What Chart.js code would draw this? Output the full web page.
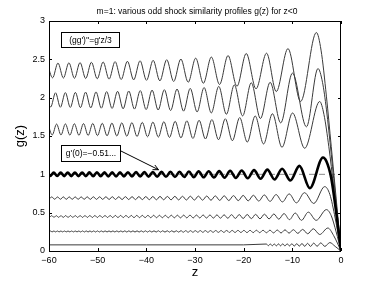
<!DOCTYPE html>
<html>
<head>
<meta charset="utf-8">
<script src="https://cdn.jsdelivr.net/npm/chart.js@4"></script>
<style>
  html, body { margin: 0; padding: 0; background: #fff; }
</style>
</head>
<body>
<canvas id="chart" width="377" height="283"></canvas>
<script>
// axis ticks
const zTicks = [-60, -50, -40, -30, -20, -10, 0];
const gTicks = [0, 0.5, 1, 1.5, 2, 2.5, 3];
const refLevel = 1;

// profiles g(z), extrema (z, g)
const profile1 = [[-60.36,2.450],[-59.26,2.259],[-58.16,2.452],[-57.04,2.256],[-55.91,2.455],[-54.77,2.253],[-53.62,2.458],[-52.46,2.250],[-51.28,2.462],[-50.09,2.246],[-48.88,2.466],[-47.66,2.242],[-46.42,2.470],[-45.17,2.237],[-43.89,2.475],[-42.60,2.232],[-41.29,2.481],[-39.96,2.226],[-38.60,2.487],[-37.22,2.219],[-35.81,2.495],[-34.38,2.211],[-32.91,2.504],[-31.40,2.201],[-29.86,2.515],[-28.28,2.188],[-26.64,2.530],[-24.96,2.172],[-23.21,2.549],[-21.38,2.149],[-19.47,2.576],[-17.46,2.115],[-15.3,2.58],[-13.3,2.08],[-10.9,2.64],[-8.3,1.95],[-5.06,2.85],[-4.1,2.62],[-3,2.02],[-2,1.36],[-1,0.69],[0,0]];

const profile2 = [[-60.65,2.061],[-59.66,1.878],[-58.66,2.064],[-57.66,1.875],[-56.64,2.066],[-55.62,1.873],[-54.58,2.069],[-53.54,1.870],[-52.48,2.072],[-51.42,1.867],[-50.34,2.075],[-49.25,1.863],[-48.15,2.079],[-47.04,1.860],[-45.91,2.083],[-44.77,1.855],[-43.61,2.087],[-42.44,1.851],[-41.25,2.092],[-40.04,1.845],[-38.82,2.098],[-37.57,1.839],[-36.30,2.104],[-35.01,1.832],[-33.69,2.112],[-32.35,1.824],[-30.98,2.121],[-29.57,1.814],[-28.13,2.132],[-26.65,1.801],[-25.12,2.147],[-23.55,1.784],[-21.92,2.166],[-20.22,1.762],[-18.44,2.194],[-16.56,1.728],[-14.56,2.2],[-12.39,1.671],[-9.97,2.32],[-7.1,1.62],[-4.73,2.38],[-3.8,2.2],[-3,1.85],[-2,1.26],[-1,0.63],[0,0]];

const profile3 = [[-60.22,1.655],[-59.33,1.514],[-58.44,1.656],[-57.54,1.513],[-56.63,1.658],[-55.71,1.511],[-54.79,1.660],[-53.85,1.509],[-52.91,1.662],[-51.96,1.507],[-51.01,1.664],[-50.04,1.505],[-49.06,1.666],[-48.07,1.502],[-47.07,1.669],[-46.06,1.500],[-45.04,1.672],[-44.01,1.497],[-42.97,1.675],[-41.91,1.493],[-40.84,1.678],[-39.75,1.490],[-38.65,1.682],[-37.53,1.486],[-36.40,1.687],[-35.25,1.481],[-34.08,1.692],[-32.89,1.475],[-31.67,1.698],[-30.43,1.468],[-29.16,1.705],[-27.86,1.461],[-26.53,1.714],[-25.17,1.451],[-23.77,1.725],[-22.32,1.438],[-20.82,1.740],[-19.26,1.421],[-17.63,1.761],[-15.91,1.396],[-14.09,1.79],[-12.13,1.353],[-9.96,1.8],[-7.46,1.34],[-4.38,1.95],[-3.5,1.78],[-2.5,1.36],[-1.5,0.83],[-0.7,0.39],[0,0]];

// the bold one, g'(0) = -0.51...
const profileBold = [[-60.44,1.022],[-59.74,0.978],[-59.03,1.022],[-58.32,0.978],[-57.60,1.023],[-56.88,0.977],[-56.15,1.023],[-55.42,0.977],[-54.68,1.024],[-53.94,0.976],[-53.19,1.024],[-52.44,0.976],[-51.68,1.025],[-50.92,0.975],[-50.15,1.025],[-49.38,0.975],[-48.60,1.026],[-47.81,0.974],[-47.02,1.026],[-46.22,0.973],[-45.41,1.027],[-44.60,0.973],[-43.78,1.028],[-42.95,0.972],[-42.11,1.029],[-41.26,0.971],[-40.40,1.030],[-39.54,0.970],[-38.66,1.031],[-37.78,0.969],[-36.88,1.032],[-35.97,0.968],[-35.05,1.033],[-34.12,0.966],[-33.18,1.034],[-32.22,0.965],[-31.25,1.036],[-30.26,0.963],[-29.25,1.038],[-28.23,0.961],[-27.18,1.040],[-26.12,0.959],[-25.03,1.042],[-23.92,0.956],[-22.78,1.046],[-21.61,0.953],[-20.40,1.050],[-19.16,0.948],[-17.87,1.055],[-16.53,0.942],[-15.13,1.062],[-13.66,0.933],[-12.10,1.073],[-10.41,0.919],[-8.55,1.11],[-6.4,0.82],[-3.7,1.22],[-3,1.17],[-2,0.95],[-1,0.51],[0,0]];

const profile5 = [[-60.02,0.675],[-59.43,0.705],[-58.84,0.675],[-58.25,0.705],[-57.65,0.675],[-57.05,0.706],[-56.45,0.674],[-55.84,0.706],[-55.23,0.674],[-54.62,0.706],[-54.01,0.674],[-53.39,0.706],[-52.77,0.674],[-52.15,0.707],[-51.52,0.673],[-50.88,0.707],[-50.24,0.673],[-49.60,0.707],[-48.96,0.673],[-48.31,0.708],[-47.65,0.672],[-46.99,0.708],[-46.33,0.672],[-45.66,0.708],[-44.98,0.671],[-44.30,0.709],[-43.62,0.671],[-42.93,0.709],[-42.23,0.670],[-41.53,0.710],[-40.82,0.670],[-40.11,0.710],[-39.39,0.669],[-38.66,0.711],[-37.93,0.668],[-37.19,0.712],[-36.44,0.668],[-35.68,0.712],[-34.92,0.667],[-34.14,0.713],[-33.36,0.666],[-32.57,0.714],[-31.77,0.665],[-30.96,0.715],[-30.13,0.664],[-29.30,0.716],[-28.45,0.663],[-27.59,0.717],[-26.72,0.662],[-25.83,0.719],[-24.92,0.660],[-24.00,0.720],[-23.06,0.658],[-22.09,0.722],[-21.11,0.657],[-20.10,0.725],[-19.07,0.654],[-18.00,0.727],[-16.90,0.651],[-15.76,0.731],[-14.58,0.647],[-13.34,0.736],[-12.04,0.640],[-10.65,0.745],[-9.16,0.628],[-7.51,0.761],[-5.6,0.62],[-3.35,0.84],[-2.3,0.74],[-1.2,0.43],[0,0]];

const profile6 = [[-60.40,0.461],[-59.92,0.439],[-59.45,0.461],[-58.97,0.439],[-58.50,0.461],[-58.02,0.439],[-57.54,0.461],[-57.05,0.439],[-56.57,0.462],[-56.08,0.438],[-55.59,0.462],[-55.10,0.438],[-54.61,0.462],[-54.11,0.438],[-53.61,0.462],[-53.11,0.438],[-52.61,0.462],[-52.10,0.438],[-51.60,0.463],[-51.09,0.437],[-50.57,0.463],[-50.06,0.437],[-49.54,0.463],[-49.02,0.437],[-48.49,0.463],[-47.97,0.437],[-47.44,0.463],[-46.90,0.436],[-46.37,0.464],[-45.83,0.436],[-45.29,0.464],[-44.74,0.436],[-44.19,0.464],[-43.64,0.436],[-43.09,0.464],[-42.53,0.435],[-41.96,0.465],[-41.40,0.435],[-40.83,0.465],[-40.25,0.435],[-39.67,0.465],[-39.09,0.434],[-38.50,0.466],[-37.90,0.434],[-37.31,0.466],[-36.70,0.434],[-36.10,0.466],[-35.48,0.433],[-34.87,0.467],[-34.24,0.433],[-33.61,0.467],[-32.98,0.432],[-32.33,0.468],[-31.69,0.432],[-31.03,0.468],[-30.37,0.431],[-29.70,0.469],[-29.02,0.431],[-28.33,0.470],[-27.64,0.430],[-26.93,0.470],[-26.22,0.429],[-25.50,0.471],[-24.77,0.428],[-24.02,0.472],[-23.26,0.427],[-22.49,0.474],[-21.71,0.425],[-20.91,0.475],[-20.10,0.424],[-19.27,0.476],[-18.42,0.422],[-17.55,0.478],[-16.65,0.420],[-15.73,0.480],[-14.78,0.419],[-13.80,0.483],[-12.78,0.415],[-11.71,0.488],[-10.59,0.409],[-9.40,0.495],[-8.12,0.400],[-6.72,0.507],[-5.1,0.40],[-3.0,0.54],[-2,0.46],[-1,0.25],[0,0]];

const profile7 = [[-60.08,0.249],[-59.72,0.261],[-59.36,0.249],[-59.00,0.261],[-58.64,0.249],[-58.28,0.261],[-57.92,0.249],[-57.56,0.261],[-57.20,0.249],[-56.83,0.261],[-56.46,0.249],[-56.09,0.261],[-55.72,0.249],[-55.35,0.261],[-54.98,0.249],[-54.61,0.261],[-54.24,0.249],[-53.87,0.261],[-53.49,0.248],[-53.11,0.262],[-52.73,0.248],[-52.35,0.262],[-51.97,0.248],[-51.59,0.262],[-51.21,0.248],[-50.82,0.262],[-50.43,0.248],[-50.04,0.262],[-49.65,0.248],[-49.26,0.262],[-48.87,0.248],[-48.47,0.262],[-48.07,0.248],[-47.67,0.262],[-47.27,0.248],[-46.87,0.262],[-46.47,0.248],[-46.06,0.262],[-45.65,0.248],[-45.24,0.262],[-44.83,0.248],[-44.42,0.263],[-44.01,0.247],[-43.59,0.263],[-43.17,0.247],[-42.75,0.263],[-42.33,0.247],[-41.91,0.263],[-41.48,0.247],[-41.05,0.263],[-40.62,0.247],[-40.19,0.263],[-39.75,0.247],[-39.31,0.263],[-38.87,0.247],[-38.43,0.263],[-37.98,0.247],[-37.53,0.264],[-37.08,0.246],[-36.63,0.264],[-36.17,0.246],[-35.71,0.264],[-35.25,0.246],[-34.78,0.264],[-34.31,0.246],[-33.84,0.264],[-33.36,0.246],[-32.88,0.265],[-32.40,0.245],[-31.91,0.265],[-31.42,0.245],[-30.93,0.265],[-30.43,0.245],[-29.93,0.265],[-29.42,0.245],[-28.91,0.266],[-28.39,0.244],[-27.87,0.266],[-27.35,0.244],[-26.82,0.266],[-26.28,0.244],[-25.74,0.267],[-25.19,0.243],[-24.64,0.267],[-24.08,0.243],[-23.51,0.268],[-22.94,0.242],[-22.36,0.268],[-21.77,0.242],[-21.17,0.269],[-20.56,0.241],[-19.95,0.269],[-19.32,0.240],[-18.69,0.270],[-18.04,0.240],[-17.38,0.271],[-16.71,0.239],[-16.02,0.271],[-15.32,0.238],[-14.60,0.272],[-13.86,0.236],[-13.10,0.274],[-12.32,0.235],[-11.51,0.276],[-10.67,0.233],[-9.79,0.278],[-8.87,0.230],[-7.89,0.282],[-6.84,0.225],[-5.69,0.29],[-4.37,0.215],[-2.7,0.30],[-1.5,0.20],[0,0]];

const profile8 = [[-60,0.08],[-40,0.08],[-20,0.08],[-15.33,0.091],[-14.93,0.069],[-14.53,0.092],[-14.12,0.068],[-13.71,0.092],[-13.28,0.067],[-12.85,0.093],[-12.42,0.067],[-11.97,0.094],[-11.52,0.066],[-11.06,0.094],[-10.58,0.066],[-10.10,0.095],[-9.60,0.064],[-9.09,0.096],[-8.57,0.063],[-8.02,0.098],[-7.46,0.061],[-6.87,0.100],[-6.26,0.060],[-5.61,0.103],[-4.91,0.062],[-4.16,0.106],[-3.32,0.06],[-2.3,0.11],[-1.2,0.06],[0,0]];

const thinProfiles = [profile1, profile2, profile3, profile5, profile6, profile7, profile8];

const toXY = arr => arr.map(p => ({ x: p[0], y: p[1] }));
const fmt = v => (v < 0 ? '\u2212' + Math.abs(v) : String(v));
const FONT = '"Liberation Sans", Arial, Helvetica, sans-serif';

Chart.defaults.font.family = FONT;

const datasets = [
  {
    data: toXY(profileBold),
    borderColor: '#000',
    borderWidth: 2.6,
    order: 0
  }
];
thinProfiles.forEach(p => {
  datasets.push({ data: toXY(p), borderColor: '#3a3a3a', borderWidth: 1, order: 1 });
});
datasets.push({
  data: [{ x: -60, y: refLevel }, { x: 0, y: refLevel }],
  borderColor: '#8a8a8a',
  borderWidth: 1,
  borderDash: [6, 4],
  cubicInterpolationMode: 'default',
  tension: 0,
  order: 2
});

// MATLAB style frame, inward ticks, titles and text boxes
const decorations = {
  id: 'decorations',
  afterDatasetsDraw(chart) {
    const { ctx, chartArea: a, scales: { x, y } } = chart;
    ctx.save();
    ctx.strokeStyle = '#000';
    ctx.lineWidth = 1;
    ctx.strokeRect(a.left + 0.5, a.top + 0.5, a.right - a.left - 1, a.bottom - a.top);
    ctx.beginPath();
    zTicks.forEach(v => {
      const px = Math.round(x.getPixelForValue(v)) + 0.5;
      ctx.moveTo(px, a.bottom); ctx.lineTo(px, a.bottom - 3);
      ctx.moveTo(px, a.top); ctx.lineTo(px, a.top + 3);
    });
    gTicks.forEach(v => {
      const py = Math.round(y.getPixelForValue(v)) + 0.5;
      ctx.moveTo(a.left, py); ctx.lineTo(a.left + 3, py);
      ctx.moveTo(a.right, py); ctx.lineTo(a.right - 3, py);
    });
    ctx.stroke();

    // text boxes
    const box = (z0, g0, z1, g1, text) => {
      const l = Math.round(x.getPixelForValue(z0)) + 0.5;
      const r = Math.round(x.getPixelForValue(z1)) + 0.5;
      const t = Math.round(y.getPixelForValue(g0)) + 0.5;
      const b = Math.round(y.getPixelForValue(g1)) + 0.5;
      ctx.fillStyle = '#fff';
      ctx.fillRect(l, t, r - l, b - t);
      ctx.strokeStyle = '#000';
      ctx.strokeRect(l, t, r - l, b - t);
      ctx.fillStyle = '#000';
      ctx.font = '8.5px ' + FONT;
      ctx.textAlign = 'center';
      ctx.textBaseline = 'middle';
      ctx.fillText(text, (l + r) / 2, (t + b) / 2 + 0.5);
    };
    box(-57.6, 2.85, -45.7, 2.66, "(gg')''=g'z/3");
    box(-57.6, 1.38, -45.4, 1.18, "g'(0)=\u22120.51...");

    // arrow to the bold profile
    const x0 = x.getPixelForValue(-45.4), y0 = y.getPixelForValue(1.31);
    const x1 = x.getPixelForValue(-37.5), y1 = y.getPixelForValue(1.06);
    const ang = Math.atan2(y1 - y0, x1 - x0);
    ctx.beginPath();
    ctx.moveTo(x0, y0); ctx.lineTo(x1, y1);
    ctx.moveTo(x1 - 6 * Math.cos(ang - 0.45), y1 - 6 * Math.sin(ang - 0.45));
    ctx.lineTo(x1, y1);
    ctx.lineTo(x1 - 6 * Math.cos(ang + 0.45), y1 - 6 * Math.sin(ang + 0.45));
    ctx.strokeStyle = '#000';
    ctx.stroke();

    // titles
    ctx.fillStyle = '#000';
    ctx.textAlign = 'center';
    ctx.textBaseline = 'middle';
    ctx.font = '8.5px ' + FONT;
    ctx.fillText('m=1: various odd shock similarity profiles g(z) for z<0', (a.left + a.right) / 2 + 2, 12);
    ctx.font = '13px ' + FONT;
    ctx.fillText('z', (a.left + a.right) / 2, 272);
    ctx.translate(20, (a.top + a.bottom) / 2);
    ctx.rotate(-Math.PI / 2);
    ctx.fillText('g(z)', 0, 0);
    ctx.restore();
  }
};

new Chart(document.getElementById('chart'), {
  type: 'line',
  data: { datasets },
  options: {
    responsive: false,
    animation: false,
    events: [],
    layout: { padding: { left: 0, right: 36, top: 21, bottom: 0 } },
    elements: {
      point: { radius: 0 },
      line: { cubicInterpolationMode: 'monotone', fill: false }
    },
    plugins: {
      legend: { display: false },
      tooltip: { enabled: false },
      title: { display: false }
    },
    scales: {
      x: {
        type: 'linear',
        min: -60,
        max: 0,
        afterBuildTicks: s => { s.ticks = zTicks.map(v => ({ value: v })); },
        afterFit: s => { s.height = 32; },
        grid: { display: false, drawTicks: false, tickLength: 0 },
        border: { display: false },
        ticks: { color: '#000', font: { size: 9 }, padding: 4, maxRotation: 0, callback: v => fmt(v) }
      },
      y: {
        type: 'linear',
        min: 0,
        max: 3,
        afterBuildTicks: s => { s.ticks = gTicks.map(v => ({ value: v })); },
        afterFit: s => { s.width = 49; },
        grid: { display: false, drawTicks: false, tickLength: 0 },
        border: { display: false },
        ticks: { color: '#000', font: { size: 9 }, padding: 4, callback: v => fmt(v) }
      }
    }
  },
  plugins: [decorations]
});
</script>
</body>
</html>
